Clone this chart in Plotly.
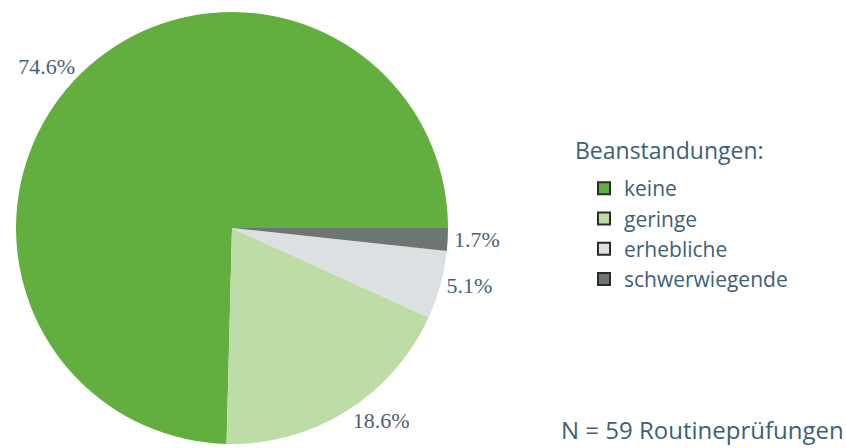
import plotly.graph_objects as go

categories = ["keine", "geringe", "erhebliche", "schwerwiegende"]
values = [74.6, 18.6, 5.1, 1.7]
colors = ["#62AE3E", "#BEDCA5", "#DDE0E2", "#6E7673"]
legend_title = "Beanstandungen:"
note = "N = 59 Routineprüfungen"

# first slice ends at 3 o'clock, slices run counterclockwise from there
rot = 90 - 360 * values[0] / sum(values)

fig = go.Figure()
fig.add_trace(go.Pie(
    labels=categories, values=values, sort=False,
    direction="counterclockwise", rotation=rot,
    marker=dict(colors=colors, line=dict(width=0)),
    texttemplate="%{value:.1f}%", textposition="outside",
    textfont=dict(family="Liberation Serif", size=22, color="#4A6275"),
    domain=dict(x=[16/846, 448/846], y=[4/448, 436/448]),
    showlegend=False, hoverinfo="label+percent", automargin=False,
))
for c, col in zip(categories, colors):
    fig.add_trace(go.Scatter(
        x=[None], y=[None], mode="markers", name=c,
        marker=dict(symbol="square", size=14, color=col, line=dict(color="#2B2B2B", width=1.5)),
    ))

fig.update_layout(
    width=846, height=448,
    margin=dict(l=0, r=0, t=0, b=0),
    paper_bgcolor="white", plot_bgcolor="white",
    xaxis=dict(visible=False), yaxis=dict(visible=False),
    legend=dict(
        font=dict(family="Open Sans", size=21, color="#3E5F78"),
        x=584/846, y=1 - 168/448, xanchor="left", yanchor="top",
        bgcolor="rgba(0,0,0,0)", itemsizing="constant",
    ),
    annotations=[
        dict(text=legend_title, x=573/846, y=1 - 150/448, xref="paper", yref="paper",
             xanchor="left", yanchor="middle", showarrow=False,
             font=dict(family="Open Sans", size=23, color="#3E5F78")),
        dict(text=note, x=1, y=0, xref="paper", yref="paper",
             xanchor="right", yanchor="bottom", showarrow=False,
             font=dict(family="Open Sans", size=24, color="#3E5F78")),
    ],
)
fig.write_html("out.html", config={"displayModeBar": False},
               post_script="document.body.style.margin='0';")
